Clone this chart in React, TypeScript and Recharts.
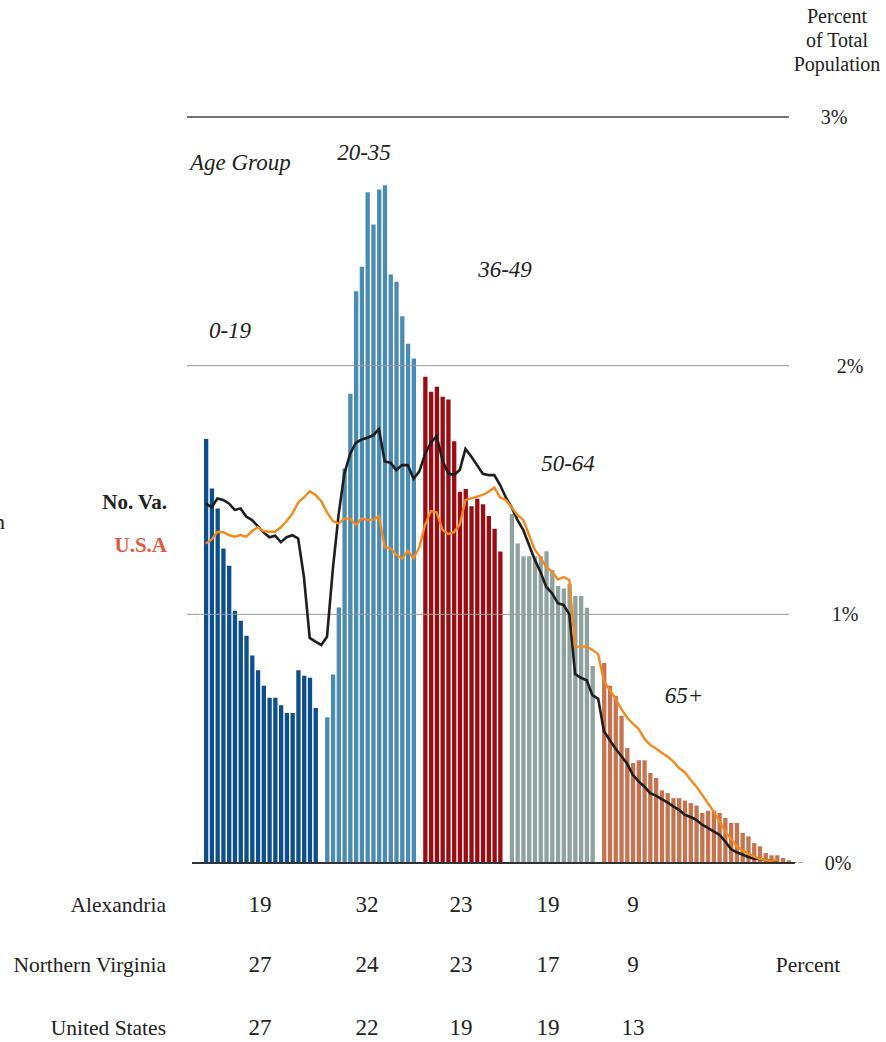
import React from "react";
import {
  ComposedChart,
  Bar,
  Line,
  XAxis,
  YAxis,
  ReferenceLine,
  Cell,
} from "recharts";

// bar heights (percent of total population), one bar per single year of age
const ages0to19 = [
  1.705, 1.506, 1.426, 1.265, 1.195, 1.014, 0.974, 0.914, 0.834, 0.775,
  0.713, 0.665, 0.665, 0.634, 0.603, 0.603, 0.775, 0.753, 0.745, 0.623,
];
const ages20to35 = [
  0.586, 0.758, 1.027, 1.586, 1.887, 2.299, 2.398, 2.697, 2.568, 2.708,
  2.726, 2.367, 2.337, 2.199, 2.088, 2.029,
];
const ages36to49 = [
  1.955, 1.895, 1.915, 1.875, 1.864, 1.696, 1.493, 1.504, 1.435, 1.465,
  1.443, 1.395, 1.344, 1.253,
];
const ages50to64 = [
  1.403, 1.285, 1.234, 1.234, 1.234, 1.234, 1.254, 1.178, 1.114, 1.104,
  1.122, 1.074, 1.074, 1.026, 0.792,
];
const ages65plus = [
  0.804, 0.713, 0.673, 0.592, 0.462, 0.402, 0.413, 0.413, 0.362, 0.342,
  0.292, 0.281, 0.261, 0.261, 0.251, 0.241, 0.231, 0.201, 0.21, 0.21,
  0.201, 0.181, 0.161, 0.161, 0.121, 0.107, 0.08, 0.067, 0.04, 0.031,
  0.031, 0.02, 0.011, 0.004, 0.003,
];

const groupLabels = ["0-19", "20-35", "36-49", "50-64", "65+"];
const groupColors = ["#0c4f8c", "#4a8bb1", "#9c0a12", "#8fa39e", "#c67350"];

// comparison lines, one point per slot on the age axis
const noVaLine = [
  1.446, 1.43, 1.466, 1.46, 1.446, 1.42, 1.426, 1.393, 1.379, 1.355,
  1.33, 1.31, 1.316, 1.29, 1.31, 1.318, 1.305, 1.15, 0.905, 0.89,
  0.877, 0.91, 1.18, 1.4, 1.565, 1.645, 1.69, 1.703, 1.71, 1.72,
  1.745, 1.615, 1.61, 1.58, 1.6, 1.6, 1.545, 1.575, 1.645, 1.69,
  1.717, 1.62, 1.567, 1.56, 1.58, 1.665, 1.635, 1.6, 1.565, 1.56,
  1.56, 1.52, 1.47, 1.43, 1.38, 1.34, 1.28, 1.22, 1.17, 1.11,
  1.085, 1.045, 1.038, 1.0, 0.76, 0.745, 0.735, 0.675, 0.66, 0.53,
  0.495, 0.46, 0.43, 0.4, 0.355, 0.328, 0.308, 0.281, 0.271, 0.257,
  0.244, 0.228, 0.214, 0.194, 0.185, 0.174, 0.154, 0.141, 0.127, 0.114,
  0.087, 0.056, 0.043, 0.034, 0.024, 0.017, 0.016, 0.011, 0.009, 0.011,
];
const usaLine = [
  1.285, 1.3, 1.332, 1.33, 1.319, 1.312, 1.319, 1.312, 1.335, 1.35,
  1.335, 1.332, 1.332, 1.35, 1.375, 1.405, 1.45, 1.47, 1.495, 1.48,
  1.455, 1.41, 1.375, 1.365, 1.385, 1.385, 1.36, 1.385, 1.38, 1.38,
  1.395, 1.27, 1.265, 1.24, 1.225, 1.255, 1.225, 1.27, 1.36, 1.415,
  1.41, 1.34, 1.323, 1.33, 1.36, 1.46, 1.466, 1.473, 1.48, 1.493,
  1.51, 1.47, 1.46, 1.43, 1.4, 1.38, 1.32, 1.26, 1.23, 1.19,
  1.172, 1.14, 1.15, 1.138, 0.87, 0.87, 0.87, 0.857, 0.84, 0.73,
  0.697, 0.66, 0.62, 0.585, 0.56, 0.54, 0.5, 0.475, 0.46, 0.443,
  0.428, 0.409, 0.382, 0.365, 0.335, 0.308, 0.275, 0.241, 0.208, 0.168,
  0.127, 0.097, 0.067, 0.051, 0.038, 0.027, 0.017, 0.011, 0.009, 0.013,
];

const yTicks = [0, 1, 2, 3];

const tableRows = ["Alexandria", "Northern Virginia", "United States"];
const alexandriaPct = [19, 32, 23, 19, 9];
const northernVirginiaPct = [27, 24, 23, 17, 9];
const unitedStatesPct = [27, 22, 19, 19, 13];

// build the slots: groups side by side, one empty slot between groups
const groups = [ages0to19, ages20to35, ages36to49, ages50to64, ages65plus];
const rows: any[] = [];
let slot = 0;
groups.forEach((g, gi) => {
  if (gi > 0) {
    rows.push({ slot, bar: null, group: -1 });
    slot++;
  }
  g.forEach((v) => {
    rows.push({ slot, bar: v, group: gi });
    slot++;
  });
});
rows.forEach((r) => {
  r.noVa = noVaLine[r.slot] ?? null;
  r.usa = usaLine[r.slot] ?? null;
});

const SERIF = "'Liberation Serif', 'DejaVu Serif', serif";
const serifStyle = { fontFamily: SERIF };

// x position of each percent label (they are not aligned in the original)
const tickX: Record<number, number> = { 0: 838, 1: 845, 2: 850, 3: 834 };

function PercentTick(props: any) {
  const { y, payload } = props;
  return (
    <text
      x={tickX[payload.value]}
      y={y}
      textAnchor="middle"
      dominantBaseline="central"
      style={serifStyle}
      fontSize={20}
      fill="#222"
    >
      {payload.value}%
    </text>
  );
}

const tableCols = [260, 367, 461, 548, 633];
const tableRowY = [912, 972, 1035];

export default function App() {
  const tableData = [alexandriaPct, northernVirginiaPct, unitedStatesPct];
  return (
    <div
      style={{
        position: "absolute",
        left: 0,
        top: 0,
        width: 886,
        height: 1042,
        background: "#fff",
        overflow: "hidden",
        fontFamily: SERIF,
      }}
    >
      <ComposedChart
        width={886}
        height={1042}
        data={rows}
        margin={{ top: 117, right: 0, bottom: 179, left: 187 }}
      >
        <XAxis
          type="number"
          dataKey="slot"
          domain={[-3.27, 103.5]}
          allowDataOverflow
          hide
        />
        <YAxis
          orientation="right"
          domain={[0, 3]}
          ticks={yTicks}
          width={83}
          axisLine={false}
          tickLine={false}
          tick={<PercentTick />}
        />
        <ReferenceLine
          segment={[{ x: -3.27, y: 3 }, { x: 101.06, y: 3 }]}
          stroke="#444"
          strokeWidth={1.6}
          ifOverflow="visible"
        />
        <ReferenceLine
          segment={[{ x: -3.27, y: 2 }, { x: 101.06, y: 2 }]}
          stroke="#9a9a9a"
          strokeWidth={1}
          ifOverflow="visible"
        />
        <ReferenceLine
          segment={[{ x: -3.27, y: 1 }, { x: 101.06, y: 1 }]}
          stroke="#9a9a9a"
          strokeWidth={1}
          ifOverflow="visible"
        />
        <Bar dataKey="bar" barSize={4.3} isAnimationActive={false}>
          {rows.map((r) => (
            <Cell
              key={r.slot}
              fill={r.group >= 0 ? groupColors[r.group] : "none"}
            />
          ))}
        </Bar>
        <ReferenceLine
          segment={[{ x: -2.4, y: 0 }, { x: 102.1, y: 0 }]}
          stroke="#333"
          strokeWidth={2}
          ifOverflow="visible"
        />
        <Line
          type="linear"
          dataKey="noVa"
          stroke="#1e1e1e"
          strokeWidth={2.6}
          dot={false}
          isAnimationActive={false}
        />
        <Line
          type="linear"
          dataKey="usa"
          stroke="#f4891c"
          strokeWidth={2.4}
          dot={false}
          isAnimationActive={false}
        />
      </ComposedChart>

      <svg
        width={886}
        height={1042}
        style={{ position: "absolute", left: 0, top: 0, pointerEvents: "none", fontFamily: SERIF }}
      >
        <g fontSize={20} fill="#222" textAnchor="middle" style={serifStyle}>
          <text x={837} y={23}>Percent</text>
          <text x={837} y={47}>of Total</text>
          <text x={837} y={71}>Population</text>
        </g>

        <g fontSize={23} fontStyle="italic" fill="#222" style={serifStyle}>
          <text x={190} y={170}>Age Group</text>
          <text x={364} y={160} textAnchor="middle">{groupLabels[1]}</text>
          <text x={230} y={338} textAnchor="middle">{groupLabels[0]}</text>
          <text x={505} y={277} textAnchor="middle">{groupLabels[2]}</text>
          <text x={568} y={471} textAnchor="middle">{groupLabels[3]}</text>
          <text x={684} y={703} textAnchor="middle">{groupLabels[4]}</text>
        </g>

        <g fontSize={21} fontWeight="bold" textAnchor="end" style={serifStyle}>
          <text x={167} y={509} fill="#222">No. Va.</text>
          <text x={167} y={552} fill="#e05a44">U.S.A</text>
        </g>
        <text x={5} y={529} textAnchor="end" fontSize={22} fill="#222" style={serifStyle}>
          n
        </text>

        <g fontSize={21.5} fill="#222" style={serifStyle}>
          {tableRows.map((name, i) => (
            <g key={name}>
              <text x={166} y={tableRowY[i]} textAnchor="end">{name}</text>
              {tableData[i].map((v, j) => (
                <text key={j} x={tableCols[j]} y={tableRowY[i]} textAnchor="middle" fontSize={23}>
                  {v}
                </text>
              ))}
            </g>
          ))}
          <text x={808} y={tableRowY[1]} textAnchor="middle">Percent</text>
        </g>
      </svg>
    </div>
  );
}
